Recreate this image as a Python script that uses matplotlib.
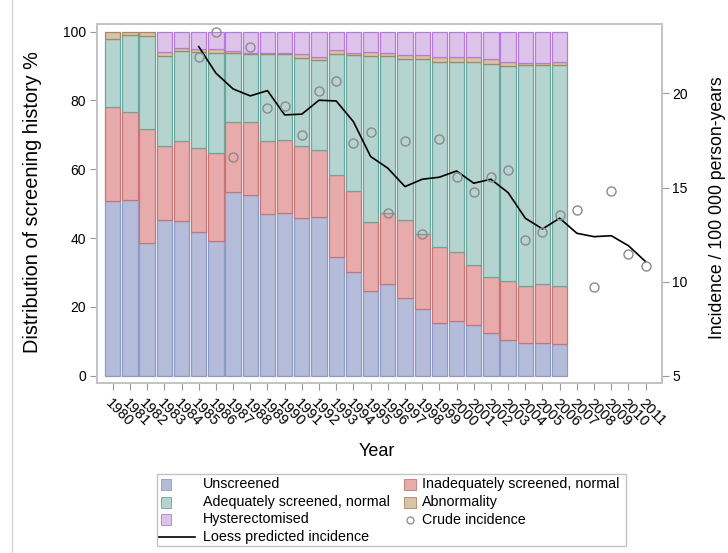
import numpy as np
import matplotlib.pyplot as plt
from matplotlib.patches import Rectangle
from matplotlib.lines import Line2D

plt.rcParams["font.family"] = ["Liberation Sans", "DejaVu Sans"]

# screening history distribution (%) by calendar year
years_bar = list(range(1980, 2007))
unscreened = [50.8, 51.1, 38.5, 45.1, 45.0, 41.7, 39.1, 53.4, 52.6, 47.0, 47.2, 45.8, 46.1, 34.6,
              30.0, 24.7, 26.6, 22.5, 19.3, 15.4, 15.8, 14.6, 12.3, 10.4, 9.6, 9.5, 9.3]
inadequate = [27.3, 25.4, 33.3, 21.6, 23.3, 24.5, 25.6, 20.4, 21.0, 21.3, 21.4, 21.0, 19.6, 23.6,
              23.7, 19.9, 20.6, 22.8, 21.8, 21.9, 20.1, 17.5, 16.5, 17.0, 16.5, 17.2, 16.9]
adequate = [19.6, 22.4, 26.8, 26.1, 26.0, 27.9, 29.1, 20.0, 19.9, 25.1, 24.8, 25.5, 25.9, 35.3,
            39.5, 48.4, 45.6, 46.7, 50.9, 54.0, 55.4, 59.2, 61.8, 62.7, 64.2, 63.5, 64.1]
abnormal = [2.3, 1.1, 1.4, 1.3, 0.9, 0.8, 1.1, 0.6, 0.3, 0.4, 0.4, 1.2, 1.0, 1.0,
            0.7, 1.1, 1.0, 1.1, 1.1, 1.3, 1.3, 1.3, 1.4, 1.0, 0.7, 0.8, 0.8]
hysterect = [0.0, 0.0, 0.0, 5.9, 4.8, 5.1, 5.1, 5.6, 6.2, 6.2, 6.2, 6.5, 7.4, 5.5,
             6.1, 5.9, 6.2, 6.9, 6.9, 7.4, 7.4, 7.4, 8.0, 8.9, 9.0, 9.0, 8.9]

# incidence per 100 000 person-years
years_inc = list(range(1985, 2012))
crude = [21.91, 23.26, 16.64, 22.49, 19.25, 19.34, 17.80, 20.15, 20.68, 17.39, 17.97, 13.67,
         17.49, 12.55, 17.58, 15.55, 14.78, 15.55, 15.94, 12.20, 12.66, 13.53, 13.79, 9.73,
         14.80, 11.49, 10.83]
loess = [22.49, 21.08, 20.24, 19.87, 20.15, 18.86, 18.90, 19.64, 19.60, 18.50, 16.65, 16.03,
         15.05, 15.44, 15.55, 15.88, 15.23, 15.44, 14.73, 13.37, 12.80, 13.37, 12.57, 12.39,
         12.44, 11.91, 11.06]

years_axis = list(range(1980, 2012))

series = [
    ("Unscreened", unscreened, "#b4bcd9", "#8e9ac6"),
    ("Inadequately screened, normal", inadequate, "#e8abab", "#c97474"),
    ("Adequately screened, normal", adequate, "#b5d4d0", "#66a89d"),
    ("Abnormality", abnormal, "#d7c3a8", "#a48866"),
    ("Hysterectomised", hysterect, "#dcc4e9", "#b878e2"),
]

W, H = 728, 553
fig = plt.figure(figsize=(W / 100, H / 100), dpi=100)


def fx(px):
    return px / W


def fy(py):
    return 1 - py / H


ax = fig.add_axes([fx(97.3), fy(382.7), fx(662.3) - fx(97.3), fy(24) - fy(382.7)])
x0 = years_axis[0]

bottom = np.zeros(len(years_bar))
xb = np.array(years_bar) - x0
for name, vals, fc, ec in series:
    v = np.array(vals)
    keep = v > 0
    ax.bar(xb[keep], v[keep], width=0.89, bottom=bottom[keep], color=fc,
           edgecolor=ec, linewidth=0.9)
    bottom += v

ax.set_xlim(-0.9, 31.97)
ax.set_ylim(-2.04, 102.2)
ax.set_yticks([0, 20, 40, 60, 80, 100])
ax.set_xticks(np.array(years_axis) - x0)
ax.set_xticklabels([str(y) for y in years_axis], rotation=-45, ha="left",
                   va="top", rotation_mode="anchor")
ax.tick_params(axis="both", length=5, width=0.8, color="#9a9a9a", labelsize=10)
ax.tick_params(axis="y", pad=3)
ax.tick_params(axis="x", pad=5, labelsize=10.5)

ax2 = ax.twinx()
xi = np.array(years_inc) - x0
ax2.plot(xi, loess, color="black", lw=1.2, zorder=3)
ax2.plot(xi, crude, ls="none", marker="o", ms=6.5, mfc="none", mec="#8a8a8a",
         mew=1.0, zorder=4)
ax2.set_ylim(4.63, 23.69)
ax2.set_yticks([5, 10, 15, 20])
ax2.tick_params(axis="y", length=5, width=0.8, color="#9a9a9a", labelsize=10, pad=2)

for a in (ax, ax2):
    for sp in a.spines.values():
        sp.set_color("#c4c4c4")
        sp.set_linewidth(1.3)

# overlay in pixel coordinates for titles and the legend
ov = fig.add_axes([0, 0, 1, 1])
ov.set_xlim(0, W)
ov.set_ylim(H, 0)
ov.axis("off")

ov.plot([12, 12], [0, H], color="#d4d4d4", lw=1.0)
ov.text(33, 202, "Distribution of screening history %", rotation=90,
        ha="center", va="center", fontsize=14.3)
ov.text(717, 208, "Incidence / 100 000 person-years", rotation=90,
        ha="center", va="center", fontsize=12.7)
ov.text(377, 452, "Year", ha="center", va="center", fontsize=13)

ov.add_patch(Rectangle((157, 474), 469, 72, fill=False, ec="#c4c4c4", lw=1.0))
rows = [484, 502, 519.5, 537]
col1 = [series[0], series[2], series[4]]
col2 = [series[1], series[3]]
fs_leg = 10.3
for (name, _, fc, ec), ry in zip(col1, rows):
    ov.add_patch(Rectangle((161, ry - 5.5), 10, 11, fc=fc, ec=ec, lw=0.6))
    ov.text(203, ry, name, ha="left", va="center", fontsize=fs_leg)
for (name, _, fc, ec), ry in zip(col2, rows):
    ov.add_patch(Rectangle((403.5, ry - 5.5), 12, 11, fc=fc, ec=ec, lw=0.6))
    ov.text(422, ry, name, ha="left", va="center", fontsize=fs_leg)
ov.plot([410], [rows[2]], ls="none", marker="o", ms=5, mfc="none", mec="#8a8a8a", mew=0.9)
ov.text(422, rows[2], "Crude incidence", ha="left", va="center", fontsize=fs_leg)
ov.add_line(Line2D([159, 195], [rows[3], rows[3]], color="black", lw=1.2))
ov.text(203, rows[3], "Loess predicted incidence", ha="left", va="center", fontsize=fs_leg)

fig.savefig("out.png", dpi=100)
